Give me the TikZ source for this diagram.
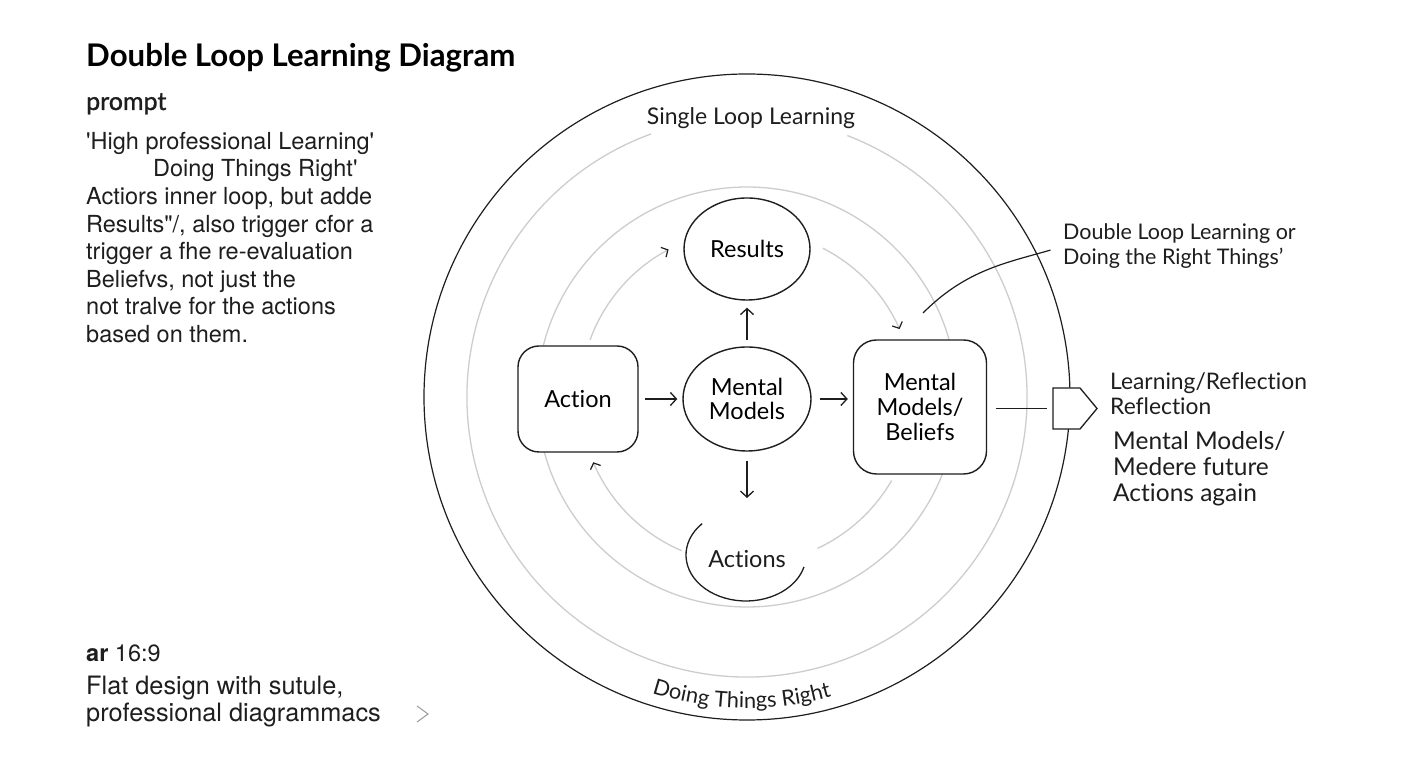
\documentclass[tikz,border=0pt]{standalone}
\usepackage{fontspec}
\setmainfont{Lato}[Ligatures=NoCommon,RawFeature={-liga;-calt;-dlig;-clig}]
\newfontfamily\bodyfont{TeX Gyre Heros}
\newfontfamily\promptfont[FakeBold=1.2]{Lato}
\usetikzlibrary{arrows.meta,shapes.geometric,decorations.text}
\definecolor{ink}{HTML}{1E1E1E}
\definecolor{ring}{HTML}{CDCDCD}
\definecolor{chev}{HTML}{9A9A9A}
\newcommand{\nolig}{\kern0pt}
\begin{document}
\begin{tikzpicture}[x=1pt,y=1pt,
  outerring/.style={draw=ink,line width=1.2pt},
  grayring/.style={draw=ring,line width=1.3pt},
  loopline/.style={draw=ring,line width=1.3pt,-{Straight Barb[length=5pt,width=11pt,color=ink,line width=1.2pt]}},
  arr/.style={draw=ink,line width=1.3pt,-{Straight Barb[length=6pt,width=13pt]}},
  plain/.style={draw=ink,line width=1.3pt},
  rbox/.style={draw=ink,fill=white,line width=1.4pt,rounded corners=21pt,inner sep=0pt,align=center,font=\fontsize{23.5}{25}\selectfont},
  oval/.style={draw=ink,fill=white,line width=1.4pt,ellipse,inner sep=0pt,align=center,font=\fontsize{23.5}{24.5}\selectfont},
  bodyline/.style={anchor=base west,inner sep=0pt,text=ink,font=\bodyfont\fontsize{23.5}{27}\selectfont},
  footline/.style={anchor=base west,inner sep=0pt,text=ink,font=\bodyfont\fontsize{25.3}{28}\selectfont},
  sideline/.style={anchor=base west,inner sep=0pt,text=ink,font=\fontsize{22.8}{25}\selectfont},
  sideline2/.style={anchor=base west,inner sep=0pt,text=ink,font=\fontsize{24.5}{26}\selectfont}
]
\useasboundingbox (0,0) rectangle (1408,768);
\fill[white] (0,0) rectangle (1408,768);

% rings
\coordinate (C) at (747,371);
\draw[outerring] (C) circle[radius=323];
\draw[grayring] ([shift={(110:280)}]C) arc[start angle=110,end angle=429,radius=280];
\draw[grayring] (C) circle[radius=210];

% inner loop arcs
\draw[loopline] ([shift={(160:167)}]C) arc[start angle=160,end angle=118,radius=167];
\draw[loopline] ([shift={(63:167)}]C) arc[start angle=63,end angle=24,radius=167];
\draw[loopline] ([shift={(247:167)}]C) arc[start angle=247,end angle=203,radius=167];
\draw[grayring] ([shift={(330:167)}]C) arc[start angle=330,end angle=295,radius=167];

% nodes
\node[rbox,minimum width=120pt,minimum height=106pt] (act) at (578,369) {Act\nolig ion};
\node[oval,minimum width=126pt,minimum height=102pt] (res) at (747,519) {Results};
\node[oval,minimum width=128pt,minimum height=104pt] (mm) at (747,369) {Mental\\Models};
\node[rbox,minimum width=133pt,minimum height=134pt,rounded corners=23pt] (bel) at (920,361) {Mental\\Models/\\Beliefs};
\node[inner sep=0pt,font=\fontsize{23.5}{25}\selectfont,text=ink] (acts) at (747,209) {Act\nolig ions};
\draw[plain] ([shift={(137:60 and 46)}]746,213) arc[start angle=137,end angle=345,x radius=60,y radius=46];

% connectors
\draw[arr,shorten <=6pt,shorten >=5pt] (act.east) -- (mm.west);
\draw[arr,shorten <=8pt,shorten >=5pt] (mm.east) -- (mm.east -| bel.west);
\draw[arr,shorten <=6pt,shorten >=7pt] (mm.north) -- (res.south);
\coordinate (actsin) at (747,270);
\draw[arr,shorten <=9pt] (mm.south) -- (actsin);

% pentagon marker and link
\coordinate (pentw) at (1053,359.5);
\draw[draw=ink,fill=white,line width=1.3pt] (1053,380) -- (1080,380) -- (1097,359.5) -- (1080,339) -- (1053,339) -- cycle;
\draw[plain,shorten <=8.5pt,shorten >=6pt] (bel.east |- pentw) -- (pentw);

% labels on rings
\node[inner sep=0pt,anchor=base,font=\fontsize{23}{25}\selectfont,text=ink] (single) at (751,643) {Single Loop Learning};
\path[decorate,decoration={text along path,text align=center,text color=ink,
  text={|\fontsize{21.8}{24}\selectfont|Doing Things Right}}]
  ([shift={(239:311)}]C) arc[start angle=239,end angle=299,radius=311];

% right side
\node[inner sep=0pt,anchor=west,align=left,text=ink,font=\fontsize{21.5}{25}\selectfont] (dlt) at (1063,521.5) {Double Loop Learning or\\Doing the Right Things'};
\coordinate (dls) at (923,455);
\draw[plain,line width=1.2pt,shorten >=13pt] (dls) to[out=45,in=196] (dlt.west);

\node[sideline] (r1) at (1110,378) {Learning/Reflect\nolig ion};
\node[sideline] (r2) at (1110,353) {Reflect\nolig ion};
\node[sideline2] (r3) at (1113,318) {Mental Models/};
\node[sideline2] (r4) at (1113,292) {Medere future};
\node[sideline2] (r5) at (1113,266) {Act\nolig ions again};

% left column
\node[anchor=base west,inner sep=0pt,text=black,font=\bfseries\fontsize{31.2}{34}\selectfont] (title) at (86,701) {Double Loop Learning Diagram};
\node[anchor=base west,inner sep=0pt,text=ink,font=\promptfont\fontsize{25}{27}\selectfont] (prompt) at (86,658) {prompt};
\node[bodyline] (l1) at (86,618) {'High professional Learning'};
\node[bodyline] (l2) at (153,591) {Doing Things Right'};
\node[bodyline] (l3) at (86,563) {Actiors inner loop, but adde};
\node[bodyline] (l4) at (86,535) {Results"/, also trigger cfor a};
\node[bodyline] (l5) at (86,508) {trigger a fhe re-evaluation};
\node[bodyline] (l6) at (86,480) {Beliefvs, not just the};
\node[bodyline] (l7) at (86,453) {not tralve for the actions};
\node[bodyline] (l8) at (86,425) {based on them.};

\node[anchor=base west,inner sep=0pt,text=ink,font=\bodyfont\fontsize{23.5}{27}\selectfont] (ar) at (86,106) {\textbf{ar} 16:9};
\node[footline] (f1) at (86,73) {Flat design with sutule,};
\node[footline] (f2) at (86,46) {professional diagrammacs};
\draw[draw=chev,line width=1pt] (417,62) -- (428,54) -- (417,46);
\end{tikzpicture}
\end{document}
